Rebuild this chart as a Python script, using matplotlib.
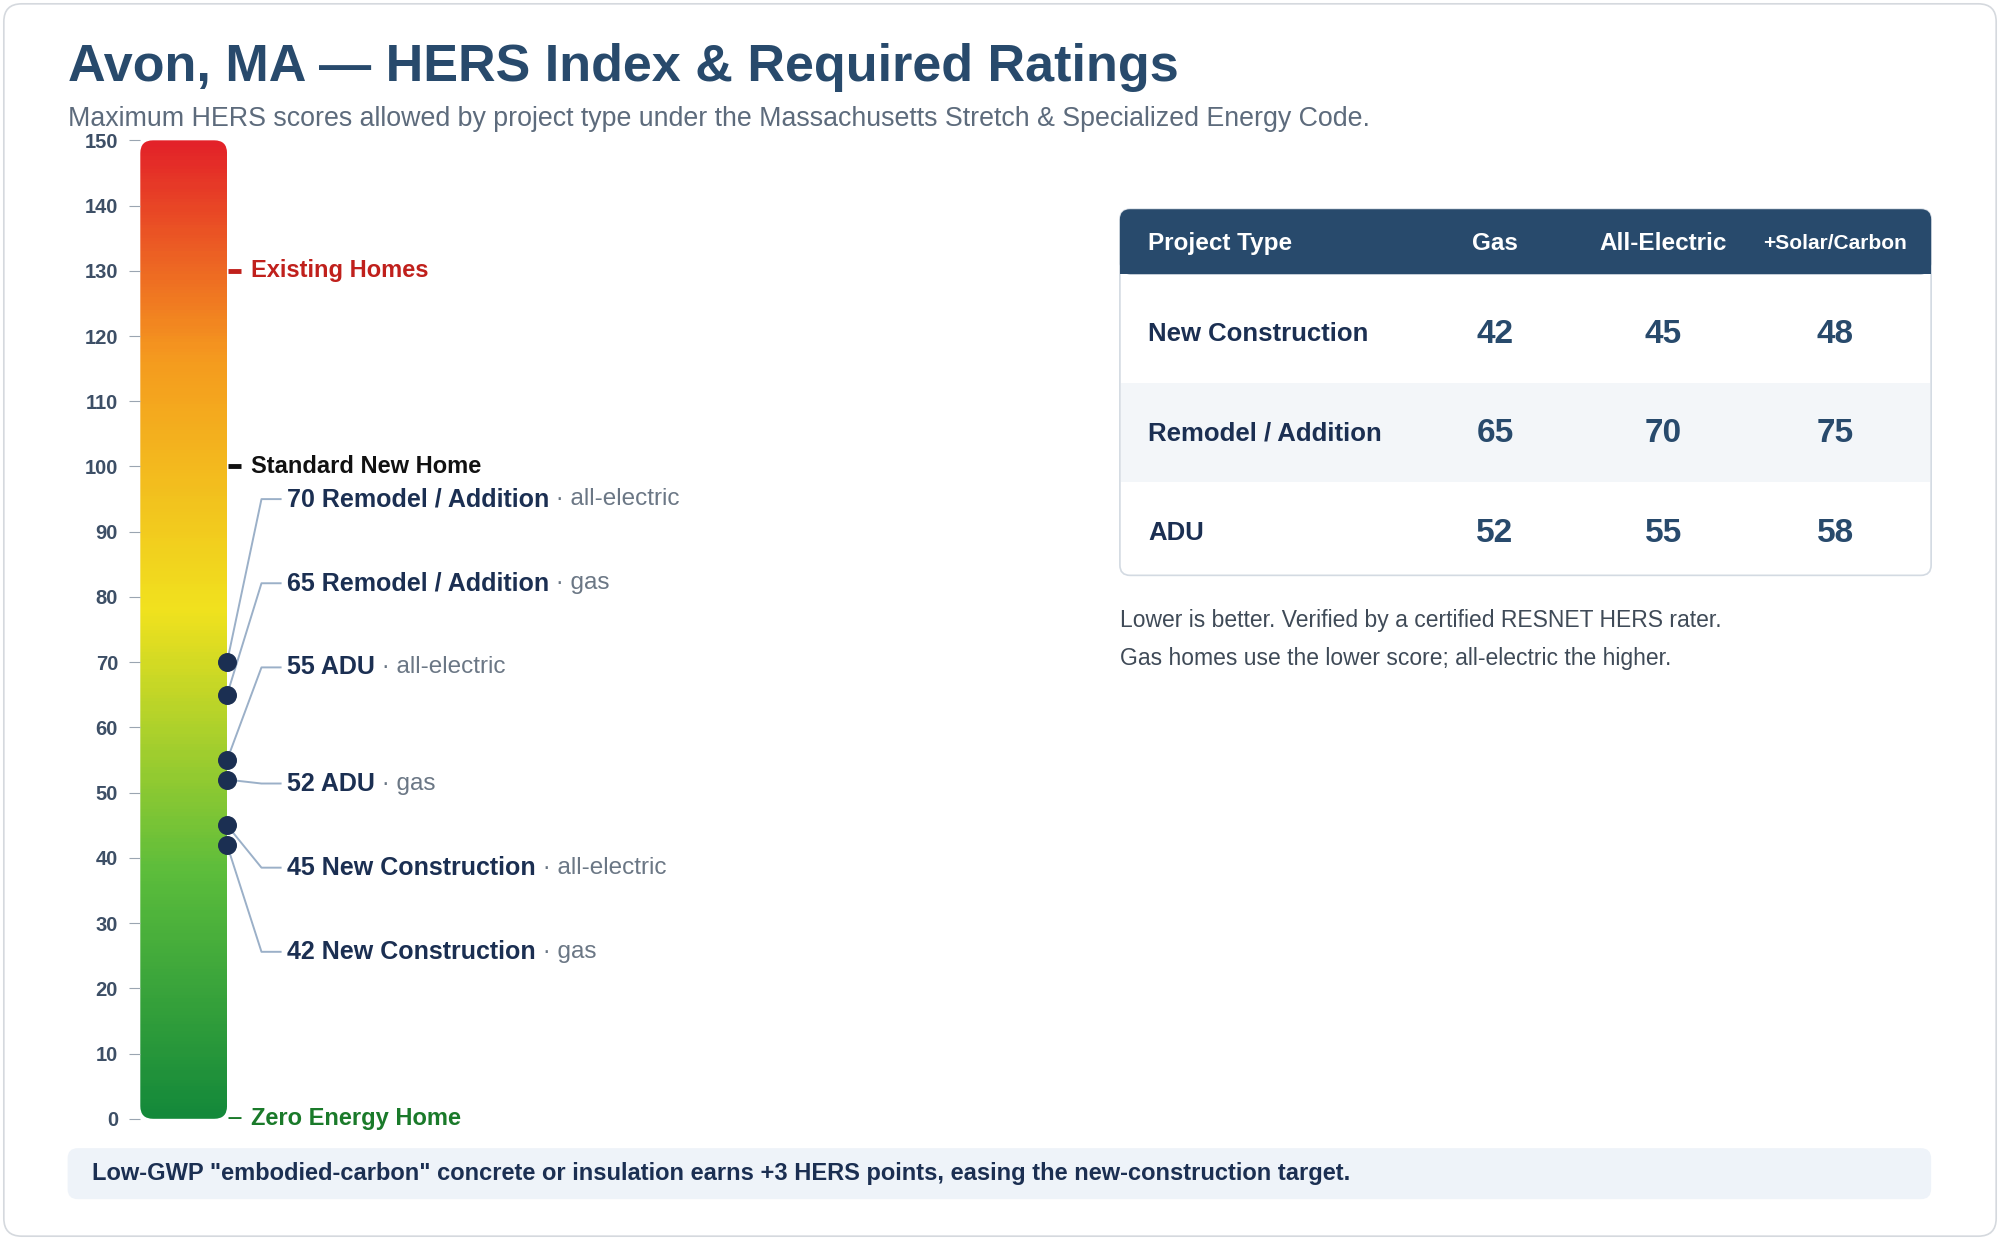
import matplotlib

matplotlib.use("Agg")
import matplotlib.pyplot as plt
import numpy as np
from matplotlib.colors import LinearSegmentedColormap
from matplotlib.patches import FancyBboxPatch, Rectangle

plt.rcParams["font.family"] = ["Liberation Sans", "DejaVu Sans"]

# Data
project_types = ["New Construction", "Remodel / Addition", "ADU"]
gas_scores = [42, 65, 52]
electric_scores = [45, 70, 55]
solar_scores = [48, 75, 58]
columns = ["Project Type", "Gas", "All-Electric", "+Solar/Carbon"]

ref_values = [130, 100, 0]
ref_labels = ["Existing Homes", "Standard New Home", "Zero Energy Home"]
ref_colors = ["#c0201c", "#111111", "#1a7a2a"]

# markers on gauge: (score, project, fuel), listed top-down as labels appear
marker_scores = [70, 65, 55, 52, 45, 42]
marker_projects = ["Remodel / Addition", "Remodel / Addition", "ADU", "ADU",
                   "New Construction", "New Construction"]
marker_fuels = ["all-electric", "gas", "all-electric", "gas", "all-electric", "gas"]
label_levels = [95.0, 82.1, 69.2, 51.4, 38.5, 25.6]

W, H = 1568, 972
DARK = "#284a6c"
NAVY = "#1b2f52"

fig = plt.figure(figsize=(20, 12.4), dpi=100)
bg = fig.add_axes([0, 0, 1, 1])
bg.set_xlim(0, W)
bg.set_ylim(H, 0)
bg.axis("off")

bg.add_patch(FancyBboxPatch((3, 3), W - 6, H - 6, boxstyle="round,pad=0,rounding_size=14",
                            fc="white", ec="#d5d9de", lw=1.2))
bg.text(53, 53, "Avon, MA — HERS Index & Required Ratings", fontsize=37.5,
        fontweight="bold", color=DARK, va="center")
bg.text(53, 93, "Maximum HERS scores allowed by project type under the Massachusetts "
        "Stretch & Specialized Energy Code.", fontsize=19.3, color="#5d6b7c", va="center")

# table
tx0, tx1 = 878, 1514
bg.add_patch(FancyBboxPatch((tx0, 164), tx1 - tx0, 287, boxstyle="round,pad=0,rounding_size=8",
                            fc="white", ec="#d3dae2", lw=1.2))
bg.add_patch(Rectangle((tx0 + 1, 300), tx1 - tx0 - 2, 78, fc="#f3f6f9", ec="none"))
bg.add_patch(FancyBboxPatch((tx0, 164), tx1 - tx0, 51, boxstyle="round,pad=0,rounding_size=8",
                            fc=DARK, ec="none"))
bg.add_patch(Rectangle((tx0, 195), tx1 - tx0, 20, fc=DARK, ec="none"))
col_x = [900, 1172, 1304, 1439]
for i, c in enumerate(columns):
    bg.text(col_x[i], 191, c, color="white", fontweight="bold",
            fontsize=17.5 if i < 3 else 15, va="center", ha="left" if i == 0 else "center")
row_y = [262, 340, 418]
for r, name in enumerate(project_types):
    bg.text(900, row_y[r], name, fontsize=18.5, fontweight="bold", color=NAVY, va="center")
    for j, v in enumerate([gas_scores[r], electric_scores[r], solar_scores[r]]):
        bg.text(col_x[j + 1], row_y[r], str(v), fontsize=24, fontweight="bold",
                color=DARK, va="center", ha="center")
bg.text(878, 486, "Lower is better. Verified by a certified RESNET HERS rater.",
        fontsize=16.5, color="#3f4a57", va="center")
bg.text(878, 516, "Gas homes use the lower score; all-electric the higher.",
        fontsize=16.5, color="#3f4a57", va="center")

# footer
bg.add_patch(FancyBboxPatch((53, 900), 1461, 40, boxstyle="round,pad=0,rounding_size=8",
                            fc="#eef3f9", ec="none"))
bg.text(72, 920, 'Low-GWP "embodied-carbon" concrete or insulation earns +3 HERS points, '
        'easing the new-construction target.', fontsize=17, fontweight="bold",
        color=NAVY, va="center")

# gauge
gx0, gx1 = 110, 620
ax = fig.add_axes([gx0 / W, 1 - 877 / H, (gx1 - gx0) / W, (877 - 110) / H])
ax.patch.set_alpha(0)
ax.set_xlim(gx0, gx1)
ax.set_ylim(0, 150)
for s in ax.spines.values():
    s.set_visible(False)
ax.set_xticks([])
ax.set_yticks(range(0, 151, 10))
ax.tick_params(axis="y", length=8, pad=8, color="#9aa5b1", labelcolor="#3d4f66",
               labelsize=14.5)
for t in ax.get_yticklabels():
    t.set_fontweight("bold")

cmap = LinearSegmentedColormap.from_list("hers", [
    (0.0, "#14893a"), (0.25, "#5cbd3c"), (0.52, "#f1e21e"),
    (0.78, "#f59a1f"), (1.0, "#e32229")])
grad = np.linspace(0, 1, 300).reshape(-1, 1)
im = ax.imshow(grad, cmap=cmap, origin="lower", extent=[110, 178, 0, 150],
               aspect="auto", zorder=1)
clip = FancyBboxPatch((110, 0), 68, 150, boxstyle="round,pad=0,rounding_size=10",
                      fc="none", ec="none", mutation_aspect=150 / 767)
ax.add_patch(clip)
im.set_clip_path(clip)

for v, lab, col in zip(ref_values, ref_labels, ref_colors):
    ax.plot([179, 189], [v, v], color=col, lw=3.5, zorder=3, solid_capstyle="butt")
    ax.text(197, v, lab, color=col, fontsize=17, fontweight="bold", va="center")

for sc, proj, fuel, ly in zip(marker_scores, marker_projects, marker_fuels, label_levels):
    ax.plot([178, 205, 220], [sc, ly, ly], color="#9bb0c8", lw=1.4, zorder=2)
    ax.scatter([178], [sc], s=160, color=NAVY, zorder=4)
    t = ax.text(225, ly, f"{sc} {proj}", color=NAVY, fontsize=18,
                fontweight="bold", va="center")
    ax.annotate(f" · {fuel}", xycoords=t, xy=(1, 0.5), va="center",
                fontsize=17.5, color="#6b7785")

fig.savefig("out.png", dpi=100)
